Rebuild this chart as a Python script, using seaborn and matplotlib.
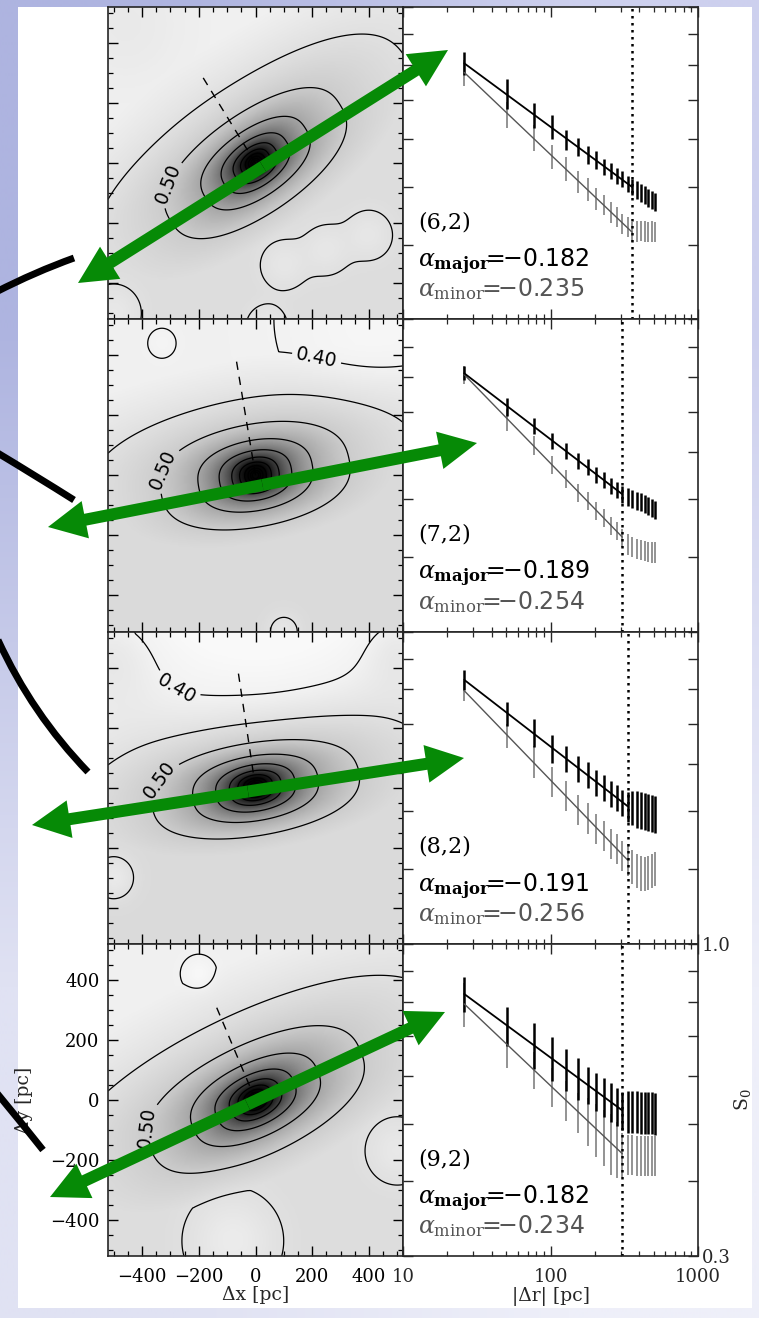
import numpy as np
import matplotlib
matplotlib.use("Agg")
import matplotlib.pyplot as plt
import seaborn as sns
from matplotlib.patches import Rectangle, FancyArrow, PathPatch
from matplotlib.path import Path
from matplotlib.colors import LinearSegmentedColormap
from matplotlib.ticker import FixedLocator, FixedFormatter, NullLocator, MultipleLocator, FuncFormatter, LogLocator

# ------------------------------------------------------------------ data
radius_pc = [26, 51, 77, 102, 128, 154, 179, 205, 230, 256,
             282, 307, 333, 358, 384, 410, 435, 461, 486, 512]
panel_labels = ["(6,2)", "(7,2)", "(8,2)", "(9,2)"]
alpha_major = [-0.182, -0.189, -0.191, -0.182]
alpha_minor = [-0.235, -0.254, -0.256, -0.234]
fit_s0_major = [0.805, 0.812, 0.830, 0.824]
fit_s0_minor = [0.777, 0.808, 0.796, 0.793]
fit_rmax = [358, 307, 333, 307]

s0_major = [
    [0.805, 0.716, 0.659, 0.630, 0.600, 0.583, 0.565, 0.554, 0.540, 0.532,
     0.521, 0.515, 0.505, 0.499, 0.494, 0.488, 0.484, 0.479, 0.476, 0.472],
    [0.812, 0.713, 0.664, 0.626, 0.602, 0.579, 0.565, 0.549, 0.539, 0.526,
     0.518, 0.509, 0.505, 0.501, 0.497, 0.494, 0.490, 0.487, 0.484, 0.479],
    [0.830, 0.728, 0.677, 0.637, 0.613, 0.590, 0.575, 0.559, 0.548, 0.535,
     0.527, 0.517, 0.510, 0.507, 0.505, 0.503, 0.501, 0.499, 0.497, 0.495],
    [0.824, 0.729, 0.677, 0.643, 0.616, 0.596, 0.580, 0.566, 0.554, 0.544,
     0.534, 0.526, 0.525, 0.524, 0.524, 0.523, 0.523, 0.522, 0.522, 0.521],
]
s0_minor = [
    [0.777, 0.660, 0.604, 0.561, 0.536, 0.510, 0.495, 0.477, 0.466, 0.453,
     0.445, 0.434, 0.428, 0.420, 0.421, 0.422, 0.421, 0.420, 0.421, 0.420],
    [0.808, 0.679, 0.615, 0.570, 0.540, 0.512, 0.496, 0.477, 0.465, 0.451,
     0.442, 0.431, 0.420, 0.416, 0.413, 0.411, 0.409, 0.408, 0.407, 0.407],
    [0.796, 0.668, 0.605, 0.560, 0.531, 0.504, 0.487, 0.468, 0.456, 0.442,
     0.433, 0.422, 0.415, 0.404, 0.398, 0.394, 0.393, 0.395, 0.398, 0.401],
    [0.793, 0.677, 0.615, 0.576, 0.546, 0.523, 0.505, 0.489, 0.476, 0.464,
     0.454, 0.445, 0.444, 0.444, 0.443, 0.443, 0.443, 0.442, 0.442, 0.442],
]
# relative 1-sigma errors in percent
err_major_pct = [
    [4.3, 5.8, 5.0, 4.6, 3.9, 3.5, 3.5, 3.5, 3.1, 3.1, 3.1, 3.1, 3.1, 3.1, 3.5, 3.5, 3.5, 3.5, 3.5, 3.5],
    [2.7, 3.5, 3.1, 3.1, 3.1, 3.1, 3.1, 3.1, 3.1, 3.1, 3.1, 3.1, 3.5, 3.5, 3.5, 3.5, 3.5, 3.5, 3.5, 3.5],
    [3.9, 4.6, 5.4, 5.4, 5.0, 5.0, 5.0, 5.0, 5.0, 5.0, 5.0, 5.0, 5.8, 6.6, 7.0, 7.0, 7.0, 7.0, 7.0, 7.0],
    [6.6, 7.4, 8.9, 8.5, 8.1, 8.1, 7.0, 7.4, 7.4, 7.4, 7.4, 7.4, 8.1, 8.1, 8.1, 8.1, 8.1, 8.1, 8.1, 8.1],
]
err_minor_pct = [
    [5.0, 5.0, 5.0, 4.6, 4.6, 4.3, 4.3, 4.3, 3.9, 3.9, 3.9, 3.9, 3.9, 3.9, 3.9, 3.9, 3.9, 3.9, 3.9, 3.9],
    [3.5, 4.3, 3.5, 3.5, 3.5, 3.5, 3.5, 3.5, 3.5, 3.5, 3.5, 3.5, 3.9, 3.9, 3.9, 3.9, 3.9, 3.9, 3.9, 3.9],
    [3.9, 4.6, 6.2, 5.8, 5.8, 5.8, 5.8, 5.8, 5.8, 5.8, 5.8, 5.8, 6.2, 6.6, 6.6, 6.6, 6.6, 6.6, 6.6, 6.6],
    [8.5, 8.5, 7.0, 7.4, 7.7, 7.7, 9.3, 10.1, 10.8, 11.6, 10.8, 8.5, 7.7, 7.7, 7.7, 7.7, 7.7, 7.7, 7.7, 7.7],
]

# structure-function map description (left column)
major_axis_deg = [33, 10, 9, 24]
minor_axis_len = [340, 390, 390, 350]
map_floor_above = [0.405, 0.405, 0.36, 0.405]
map_floor_below = [0.458, 0.465, 0.465, 0.458]
map_drop_above = [0.0, 0.0, 0.02, 0.0]
map_bumps = [
    [(100, -340, -0.025, 55), (250, -290, -0.025, 55), (400, -240, -0.025, 55),
     (-500, -500, -0.03, 60), (40, -545, -0.03, 45), (-460, 460, 0.02, 150)],
    [(420, 520, -0.035, 180), (-330, 440, -0.02, 30), (100, -520, -0.03, 40)],
    [(60, 480, -0.02, 170), (500, 480, 0.05, 100), (-520, 470, 0.08, 150), (-500, -300, -0.04, 50)],
    [(-200, 420, -0.04, 32), (-80, -470, -0.04, 100), (500, -170, -0.03, 70)],
]
contour_levels = [0.40, 0.45, 0.50, 0.55, 0.60, 0.65, 0.70, 0.75, 0.80, 0.85, 0.90]
contour_label_pos = [
    [(-277, -82, 0.50)],
    [(-319, 17, 0.50), (220, 411, 0.40)],
    [(-256, 370, 0.40), (-372, 52, 0.50)],
    [(-397, -89, 0.50)],
]
gray_anchor_s0 = [0.35, 0.40, 0.45, 0.50, 0.55, 0.60, 0.65, 0.70, 0.76]
gray_anchor_lum = [0.98, 0.95, 0.88, 0.80, 0.65, 0.45, 0.25, 0.10, 0.02]
map_ticks = [-400, -200, 0, 200, 400]
s0_ticks = [0.3, 0.4, 0.5, 0.6, 0.7, 0.8, 0.9, 1.0]
s0_ticklabels = ["0.3", "", "", "", "", "", "", "1.0"]

# slide annotations (figure pixel coordinates)
green_arrows = [((78, 283), (448, 50)), ((48, 527), (477, 443)),
                ((32, 825), (464, 758)), ((50, 1197), (445, 1012))]
black_curves = [((74, 258), (35, 272), (-4, 292)), ((74, 500), (36, 476), (-4, 452)),
                ((88, 772), (32, 714), (-2, 640)), ((43, 1150), (20, 1121), (-4, 1092))]

# ------------------------------------------------------------------ style
sns.set_style("ticks")
plt.rcParams["font.family"] = ["DejaVu Serif", "DejaVu Sans"]
plt.rcParams["mathtext.fontset"] = "dejavuserif"
plt.rcParams["axes.linewidth"] = 1.2

W, H = 759, 1318
fig = plt.figure(figsize=(W / 100, H / 100), dpi=100)

# background (slide)
bg = fig.add_axes([0, 0, 1, 1], zorder=-5)
grad = np.array([[[174, 180, 224], [205, 208, 238]],
                 [[224, 226, 243], [238, 239, 249]]]) / 255.0
bg.imshow(grad, extent=[0, W, H, 0], interpolation="bilinear", aspect="auto")
bg.add_patch(Rectangle((18, 7), 734, 1301, facecolor="white", edgecolor="none"))
bg.set_xlim(0, W); bg.set_ylim(H, 0); bg.axis("off")

vmin, vmax = gray_anchor_s0[0], gray_anchor_s0[-1]
sf_cmap = LinearSegmentedColormap.from_list(
    "sf", [((s - vmin) / (vmax - vmin), (l, l, l)) for s, l in zip(gray_anchor_s0, gray_anchor_lum)])

top_px, row_h = 7.0, 312.25
lx, rx, pw = 108, 403, 295


def rect(xpx, row):
    y0 = top_px + row_h * (row + 1)
    return [xpx / W, 1 - y0 / H, pw / W, row_h / H]


def corr_map(k):
    """S0 map: major-axis power law on an elliptical radius whose axis ratio
    reproduces the minor-axis power law."""
    g = np.linspace(-520, 520, 261)
    X, Y = np.meshgrid(g, g)
    th = np.deg2rad(major_axis_deg[k])
    u = X * np.cos(th) + Y * np.sin(th)
    v = -X * np.sin(th) + Y * np.cos(th)
    r0 = radius_pc[0]
    E = (np.log10(fit_s0_minor[k] / fit_s0_major[k]) * v ** 2 / (v ** 2 + r0 ** 2)
         + (alpha_minor[k] - alpha_major[k]) * np.log10(np.sqrt(v ** 2 + r0 ** 2) / r0))
    lam = 10 ** (E / alpha_major[k])
    rho = np.sqrt(u ** 2 + (lam * v) ** 2 + 10.0 ** 2)
    S = 10 ** (np.log10(fit_s0_major[k]) + alpha_major[k] * np.log10(rho / r0))
    S = np.where(v < 0, np.maximum(S, map_floor_below[k]), np.maximum(S, map_floor_above[k]))
    S = S - map_drop_above[k] * np.clip(v, 0, None) / 520.0
    for bx, by, ba, bs in map_bumps[k]:
        S += ba * np.exp(-((X - bx) ** 2 + (Y - by) ** 2) / (2 * bs ** 2))
    return g, np.minimum(S, 1.0)


tick_kw = dict(direction="in", top=True, right=True, bottom=True, left=True)

for k in range(4):
    last = k == 3
    # ---------------- left: map
    axm = fig.add_axes(rect(lx, k))
    g, S = corr_map(k)
    axm.imshow(S, origin="lower", extent=[-520, 520, -520, 520], cmap=sf_cmap,
               vmin=vmin, vmax=vmax, aspect="auto", interpolation="bilinear")
    labelled = [lev for (_, _, lev) in contour_label_pos[k]]
    plain = [lev for lev in contour_levels if lev not in labelled]
    axm.contour(g, g, S, levels=plain, colors="black", linewidths=0.9)
    for (px, py, lev) in contour_label_pos[k]:
        cs1 = axm.contour(g, g, S, levels=[lev], colors="black", linewidths=0.9)
        try:
            lab = axm.clabel(cs1, manual=[(px, py)], fmt="%.2f",
                             fontsize=13.5, inline=True, inline_spacing=4)
            for t in lab:
                t.set_family("DejaVu Sans")
        except Exception:
            axm.text(px, py, f"{lev:.2f}", fontsize=13.5, family="DejaVu Sans",
                     ha="center", va="center")
    th = np.deg2rad(major_axis_deg[k] + 90)
    L = minor_axis_len[k]
    axm.plot([0, L * np.cos(th)], [0, L * np.sin(th)], color="black", lw=1.0,
             ls=(0, (6, 5)))
    axm.set_xlim(-520, 520); axm.set_ylim(-520, 520)
    axm.xaxis.set_major_locator(FixedLocator(map_ticks))
    axm.yaxis.set_major_locator(FixedLocator(map_ticks))
    axm.xaxis.set_minor_locator(MultipleLocator(50))
    axm.yaxis.set_minor_locator(MultipleLocator(50))
    axm.tick_params(which="both", **tick_kw, labelbottom=last, labelleft=last,
                    labelsize=13, colors="black")
    axm.tick_params(which="major", length=7, width=1.0)
    axm.tick_params(which="minor", length=3.5, width=0.9)
    axm.tick_params(axis="x", which="major", pad=9)
    axm.tick_params(axis="y", which="major", pad=6)
    if last:
        axm.set_xlabel("Δx [pc]", fontsize=13.5, labelpad=0)
        axm.set_ylabel("Δy [pc]", fontsize=13.5)
        axm.yaxis.set_label_coords(-0.255, 0.5)

    # ---------------- right: S0 profile
    axp = fig.add_axes(rect(rx, k))
    axp.set_xscale("log"); axp.set_yscale("log")
    r = np.array(radius_pc, dtype=float)
    mj = np.array(s0_major[k]); mn = np.array(s0_minor[k])
    axp.errorbar(r, mn, yerr=mn * np.array(err_minor_pct[k]) / 100, fmt="none",
                 ecolor="#8a8a8a", elinewidth=1.3, capsize=0)
    axp.errorbar(r, mj, yerr=mj * np.array(err_major_pct[k]) / 100, fmt="none",
                 ecolor="black", elinewidth=1.8, capsize=0)
    rfit = np.array([radius_pc[0], fit_rmax[k]], dtype=float)
    sns.lineplot(x=rfit, y=fit_s0_minor[k] * (rfit / rfit[0]) ** alpha_minor[k],
                 ax=axp, color="#555555", lw=1.0)
    sns.lineplot(x=rfit, y=fit_s0_major[k] * (rfit / rfit[0]) ** alpha_major[k],
                 ax=axp, color="black", lw=1.3)
    axp.axvline(fit_rmax[k], color="black", lw=1.8, ls=(0, (1, 1.8)))
    axp.set_xlim(10, 1000); axp.set_ylim(0.3, 1.0)
    axp.xaxis.set_major_locator(FixedLocator([10, 100, 1000]))
    axp.xaxis.set_minor_locator(LogLocator(base=10, subs=np.arange(2, 10), numticks=20))
    axp.xaxis.set_major_formatter(FuncFormatter(lambda v, p: f"{v:g}"))
    axp.yaxis.set_major_locator(FixedLocator(s0_ticks))
    axp.yaxis.set_major_formatter(FixedFormatter(s0_ticklabels))
    axp.yaxis.set_minor_locator(NullLocator())
    axp.tick_params(which="both", **tick_kw, labelbottom=last, labelleft=False,
                    labelright=last, labelsize=13)
    axp.tick_params(which="major", length=7, width=1.0)
    axp.tick_params(which="minor", length=3.5, width=0.9)
    axp.tick_params(axis="x", which="major", pad=9)
    axp.tick_params(axis="y", which="major", pad=3)
    axp.set_xlabel("")
    axp.set_ylabel("")
    if last:
        axp.set_xlabel("|Δr| [pc]", fontsize=13.5, labelpad=0)
        axp.yaxis.set_label_position("right")
        axp.set_ylabel("S$_0$", fontsize=13.5)
        axp.yaxis.set_label_coords(1.115, 0.5)

    axp.text(0.05, 0.291, panel_labels[k], transform=axp.transAxes,
             fontsize=16, va="baseline", ha="left", color="black")
    axp.text(0.05, 0.167,
             r"$\alpha_{\mathbf{major}}\!\!=\!\!\mathsf{%s}$" % f"{alpha_major[k]:.3f}",
             transform=axp.transAxes, fontsize=17, va="baseline", ha="left", color="black")
    axp.text(0.05, 0.073,
             r"$\alpha_{\mathrm{minor}}\!\!=\!\!\mathsf{%s}$" % f"{alpha_minor[k]:.3f}",
             transform=axp.transAxes, fontsize=17, va="baseline", ha="left", color="#555555")

# ------------------------------------------------------------------ overlay
ov = fig.add_axes([0, 0, 1, 1], zorder=10)
ov.set_xlim(0, W); ov.set_ylim(H, 0); ov.axis("off"); ov.patch.set_alpha(0)
for p0, c, p1 in black_curves:
    path = Path([p0, c, p1], [Path.MOVETO, Path.CURVE3, Path.CURVE3])
    ov.add_patch(PathPatch(path, facecolor="none", edgecolor="black", lw=5,
                           capstyle="butt"))
for (a, b) in green_arrows:
    a = np.array(a, float); b = np.array(b, float)
    mid = (a + b) / 2
    for tip in (a, b):
        d = tip - mid
        ov.add_patch(FancyArrow(mid[0], mid[1], d[0], d[1], width=12, head_width=38,
                                head_length=38, length_includes_head=True,
                                color="#068a06", lw=0))

fig.savefig("out.png", dpi=100)
